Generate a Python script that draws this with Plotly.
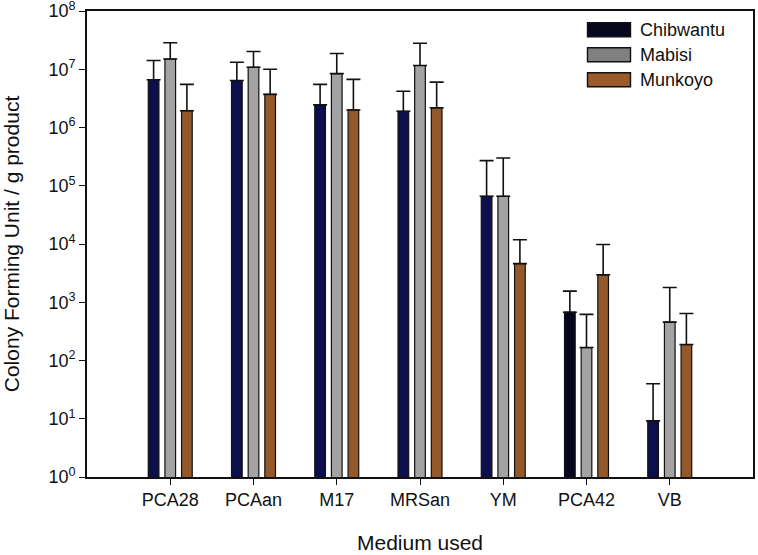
import plotly.graph_objects as go

media = ["PCA28", "PCAan", "M17", "MRSan", "YM", "PCA42", "VB"]
series_names = ["Chibwantu", "Mabisi", "Munkoyo"]

chibwantu = [6.6e6, 6.4e6, 2.45e6, 1.9e6, 6.6e4, 675, 9.2]
chibwantu_err_top = [1.41e7, 1.32e7, 5.5e6, 4.2e6, 2.7e5, 1550, 40]

mabisi = [1.5e7, 1.08e7, 8.4e6, 1.16e7, 6.6e4, 167, 455]
mabisi_err_top = [2.85e7, 2.02e7, 1.86e7, 2.8e7, 3.0e5, 620, 1790]

munkoyo = [1.94e6, 3.7e6, 2.0e6, 2.18e6, 4.6e3, 2960, 188]
munkoyo_err_top = [5.5e6, 1.0e7, 6.7e6, 6.0e6, 1.18e4, 9800, 640]

bar_colors = [
    ["#0c0f4c", "#0c0f4c", "#0c0f4c", "#0c0f4c", "#0c0f4c", "#06061f", "#0c0f4c"],
    "#a3a3a3",
    "#94592b",
]
legend_colors = ["#06061f", "#808080", "#9a5a2a"]

values = [chibwantu, mabisi, munkoyo]
err_tops = [chibwantu_err_top, mabisi_err_top, munkoyo_err_top]

FONT = "Liberation Sans, Arial, Helvetica, sans-serif"

fig = go.Figure()
for name, vals, tops, col in zip(series_names, values, err_tops, bar_colors):
    fig.add_trace(go.Bar(
        x=media, y=vals, name=name,
        marker=dict(color=col, line=dict(color="#111111", width=1.2)),
        error_y=dict(type="data", symmetric=False,
                     array=[t - v for t, v in zip(tops, vals)],
                     arrayminus=[0] * len(vals),
                     color="#111111", thickness=1.6, width=7),
        showlegend=False,
    ))

# plot area geometry (pixels) used for the hand-drawn legend box
W, H = 758, 555
ml, mr, mt, mb = 87, 5, 11, 78
pw, ph = W - ml - mr, H - mt - mb

def px_x(x):
    return (x - ml) / pw

def px_y(y):
    return (H - mb - y) / ph

shapes = []
annotations = []
for i, (name, col) in enumerate(zip(series_names, legend_colors)):
    top = 22.7 + 25 * i
    shapes.append(dict(type="rect", xref="paper", yref="paper",
                       x0=px_x(587.5), x1=px_x(630.5),
                       y0=px_y(top + 14), y1=px_y(top),
                       fillcolor=col, line=dict(color="#111111", width=1.4)))
    annotations.append(dict(xref="paper", yref="paper", x=px_x(638), y=px_y(top + 7),
                            xanchor="left", yanchor="middle", text=name, showarrow=False,
                            font=dict(family=FONT, size=18, color="#111111")))

tickvals = [10 ** k for k in range(0, 9)]
ticktext = [f"10<sup>{k}</sup>" for k in range(0, 9)]

fig.update_layout(
    width=W, height=H,
    margin=dict(l=ml, r=mr, t=mt, b=mb, autoexpand=False),
    paper_bgcolor="white", plot_bgcolor="white",
    barmode="group", bargap=0.4, bargroupgap=0.36,
    font=dict(family=FONT, size=18, color="#111111"),
    shapes=shapes, annotations=annotations,
    xaxis=dict(
        type="category", range=[-1, 7], automargin=False,
        showline=True, linecolor="#111111", linewidth=1.6, mirror=True,
        ticks="outside", ticklen=6, tickwidth=1.4, tickcolor="#111111",
        showgrid=False, zeroline=False,
        tickfont=dict(family=FONT, size=18),
        title=dict(text="Medium used", font=dict(family=FONT, size=21), standoff=26),
    ),
    yaxis=dict(
        type="log", range=[-1e-6, 8 + 1e-6], automargin=False,
        tickvals=tickvals, ticktext=ticktext, ticklabeloverflow="allow",
        showline=True, linecolor="#111111", linewidth=1.6, mirror=True,
        ticks="outside", ticklen=6, tickwidth=1.4, tickcolor="#111111",
        showgrid=False, zeroline=False,
        tickfont=dict(family=FONT, size=18),
        title=dict(text="Colony Forming Unit / g product", font=dict(family=FONT, size=21), standoff=23),
    ),
)

fig.write_html("out.html", config={"displayModeBar": False},
               post_script="document.body.style.margin='0';")
